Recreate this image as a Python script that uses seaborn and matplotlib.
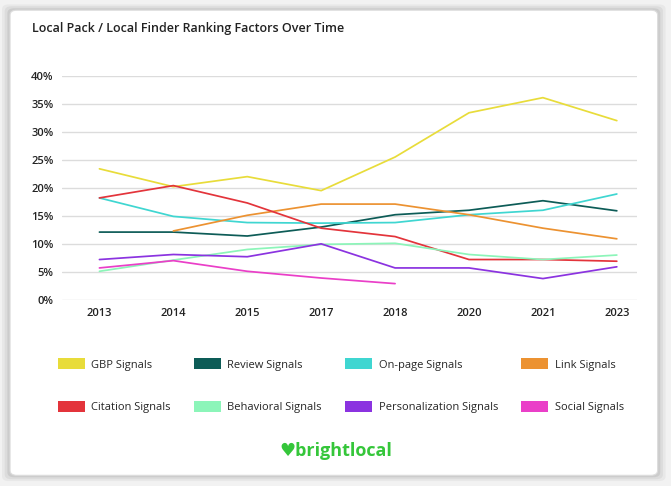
import pandas as pd
import seaborn as sns
import matplotlib.pyplot as plt
from matplotlib.patches import FancyBboxPatch, Patch
import numpy as np

# data (percent)
years = ["2013", "2014", "2015", "2017", "2018", "2020", "2021", "2023"]
gbp = [23.4, 20.2, 22.0, 19.5, 25.5, 33.4, 36.1, 32.0]
review = [12.1, 12.1, 11.4, 13.0, 15.2, 16.0, 17.7, 15.9]
onpage = [18.2, 14.9, 13.8, 13.7, 13.8, 15.2, 16.0, 18.9]
link = [np.nan, 12.3, 15.1, 17.1, 17.1, 15.2, 12.8, 10.9]
citation = [18.2, 20.4, 17.3, 12.8, 11.3, 7.2, 7.2, 6.9]
behavioral = [5.1, 7.1, 9.0, 9.9, 10.1, 8.1, 7.2, 8.0]
personalization = [7.2, 8.1, 7.7, 10.0, 5.7, 5.7, 3.8, 5.9]
social = [5.7, 7.0, 5.1, 3.9, 2.9, np.nan, np.nan, np.nan]

signals = ["GBP Signals", "Review Signals", "On-page Signals", "Link Signals",
           "Citation Signals", "Behavioral Signals", "Personalization Signals", "Social Signals"]
colors = ["#e8dc3a", "#0d5c57", "#3fd6d1", "#ec9231",
          "#e3343b", "#8cf5b9", "#8b33e0", "#ea3fc8"]
series = [gbp, review, onpage, link, citation, behavioral, personalization, social]

rows = []
for name, vals in zip(signals, series):
    for i, v in enumerate(vals):
        if not np.isnan(v):
            rows.append({"pos": i, "year": years[i], "signal": name, "value": v})
df = pd.DataFrame(rows)

sns.set_style("white")
plt.rcParams['font.family'] = ['Open Sans', 'DejaVu Sans']

fig = plt.figure(figsize=(6.71, 4.86), dpi=100)
fig.patch.set_facecolor("#f2f2f2")

# card with soft shadow
for k, a in enumerate([0.04, 0.05, 0.07]):
    off = (3 - k) * 0.004
    fig.patches.append(FancyBboxPatch((0.015 - off, 0.022 - off), 0.965 + 2 * off, 0.957 + 2 * off,
                                      boxstyle="round,pad=0,rounding_size=0.01",
                                      transform=fig.transFigure, facecolor="black",
                                      edgecolor="none", alpha=a, zorder=-3))
fig.patches.append(FancyBboxPatch((0.015, 0.022), 0.965, 0.957,
                                  boxstyle="round,pad=0,rounding_size=0.01",
                                  transform=fig.transFigure, facecolor="white",
                                  edgecolor="#dddddd", lw=0.8, zorder=-2))

ax = fig.add_axes([0.092, 0.383, 0.857, 0.461])
ax.set_facecolor("none")
sns.lineplot(data=df, x="pos", y="value", hue="signal", hue_order=signals,
             palette=colors, linewidth=1.25, legend=False, ax=ax)

ax.set_xlim(-0.51, 7.27)
ax.set_ylim(0, 40)
ax.set_xticks(range(len(years)))
ax.set_xticklabels(years, fontsize=8, fontweight="semibold", color="#222222")
ax.set_yticks(range(0, 41, 5))
ax.set_yticklabels([f"{t}%" for t in range(0, 41, 5)], fontsize=8,
                   fontweight="semibold", color="#222222")
ax.grid(axis="y", color="#dcdcdc", linewidth=1)
ax.set_axisbelow(True)
for s in ax.spines.values():
    s.set_visible(False)
ax.tick_params(axis="both", length=0)
ax.tick_params(axis="y", pad=6)
ax.tick_params(axis="x", pad=6)
ax.set_xlabel("")
ax.set_ylabel("")

fig.text(0.048, 0.942, "Local Pack / Local Finder Ranking Factors Over Time",
         fontsize=9, fontweight="semibold", color="#222222", va="center")

# legend fills column by column, so reorder to get rows
order = [0, 4, 1, 5, 2, 6, 3, 7]
handles = [Patch(facecolor=colors[i], edgecolor="none") for i in order]
labels = [signals[i] for i in order]
fig.legend(handles, labels, loc="center", bbox_to_anchor=(0.508, 0.206), ncol=4,
           frameon=False, fontsize=8, handlelength=2.4, handleheight=1.1,
           handletextpad=0.6, columnspacing=2.1, labelspacing=2.75)

fig.text(0.5, 0.073, "\u2665brightlocal", fontsize=13, fontweight="bold",
         color="#35c63a", ha="center", va="center")

fig.savefig("out.png", dpi=100, facecolor=fig.get_facecolor())
